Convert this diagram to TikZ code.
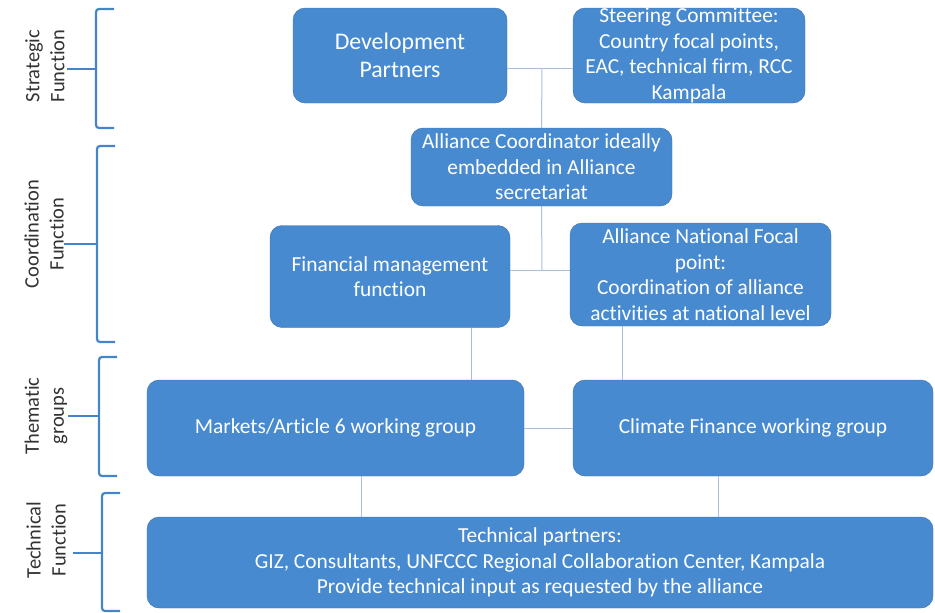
\documentclass[tikz,border=0pt]{standalone}
\usepackage{fontspec}
\setmainfont{Carlito}[Ligatures=NoCommon]
\usepackage{tikz}
\usetikzlibrary{positioning}
\definecolor{boxblue}{RGB}{72,138,208}
\definecolor{boxedge}{RGB}{58,110,168}
\definecolor{linkgray}{RGB}{168,192,218}
\definecolor{braceblue}{RGB}{68,132,202}

\begin{document}
\begin{tikzpicture}[x=1pt,y=-1pt]
                % one unit = one pixel of the layout, y grows downwards
                \tikzstyle{box}=[rectangle, rounded corners=12pt, fill=boxblue, draw=boxedge, text=white, align=center, inner sep=0pt, font=\fontsize{21.4}{25.5}\selectfont]
                \tikzstyle{link}=[draw=linkgray, line width=1pt]
                \tikzstyle{brace}=[draw=braceblue, line width=2.2pt, rounded corners=3pt]
                \tikzstyle{side}=[rotate=90, align=center, text=black!80, font=\fontsize{20.5}{25}\selectfont]
                \useasboundingbox (0,0) rectangle (935,613);
                % strategic level
                \node[box, minimum width=214pt, minimum height=95pt, font=\fontsize{23.8}{28}\selectfont] (DP) at (400,55.5) {Development\\Partners};
                \node[box, minimum width=232pt, minimum height=95pt] (SC) at (689,55.5) {Steering Committee:\\Country focal points,\\EAC, technical firm, RCC\\Kampala};
                % coordination level
                \node[box, minimum width=261pt, minimum height=78pt] (AC) at (541.5,167) {Alliance Coordinator ideally\\embedded in Alliance\\secretariat};
                \node[box, minimum width=240pt, minimum height=102pt] (FM) at (390,276.5) {Financial management\\function};
                \node[box, minimum width=261pt, minimum height=103pt] (NF) at (700.5,274.5) {Alliance National Focal\\point:\\Coordination of alliance\\activities at national level};
                % thematic groups
                \node[box, minimum width=377pt, minimum height=96pt] (MA) at (335.5,428) {Markets/Article 6 working group};
                \node[box, minimum width=360pt, minimum height=96pt] (CF) at (753,428) {Climate Finance working group};
                % technical level
                \node[box, minimum width=786pt, minimum height=91pt] (TP) at (540,562.5) {Technical partners:\\GIZ, Consultants, UNFCCC Regional Collaboration Center, Kampala\\Provide technical input as requested by the alliance};
                % connectors
                \coordinate (topjoin) at (542,68);
                \coordinate (midjoin) at (542,270);
                \coordinate (fmdrop) at (471,0);
                \coordinate (nfdrop) at (622,0);
                \coordinate (madrop) at (361,0);
                \coordinate (cfdrop) at (718,0);
                \draw[link] (DP.east |- topjoin) -- (SC.west |- topjoin);
                \draw[link] (topjoin) -- (AC.north);
                \draw[link] (AC.south) -- (midjoin);
                \draw[link] (FM.east |- midjoin) -- (NF.west |- midjoin);
                \draw[link] (FM.south -| fmdrop) -- (MA.north -| fmdrop);
                \draw[link] (NF.south -| nfdrop) -- (CF.north -| nfdrop);
                \draw[link] (MA.east) -- (CF.west);
                \draw[link] (MA.south -| madrop) -- (TP.north -| madrop);
                \draw[link] (CF.south -| cfdrop) -- (TP.north -| cfdrop);
                % brackets on the left: x, top, bottom, tick
                \foreach \bx/\btop/\bbot/\bmid/\btip in {96/9/128/69/67, 97/146/342/244/64, 99/357/476/416/68, 102/493/611/553/73}
                {
                \draw[brace] (\bx+18,\btop) -- (\bx,\btop) -- (\bx,\bbot) -- (\bx+18,\bbot);
                \draw[brace] (\btip,\bmid) -- (\bx,\bmid);
                }
                \node[side] (strategic) at (45,66) {Strategic\\Function};
                \node[side] (coordination) at (44,234) {Coordination\\Function};
                \node[side] (thematic) at (46,416) {Thematic\\groups};
                \node[side] (technical) at (46,540) {Technical\\Function};
        \end{tikzpicture}
\end{document}
